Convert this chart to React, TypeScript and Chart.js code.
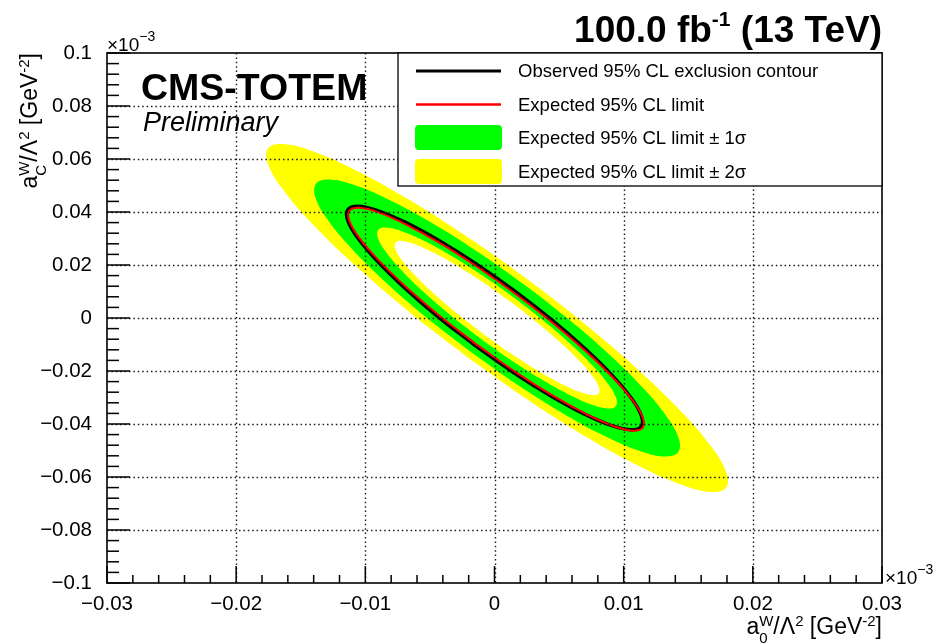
import React, { useEffect, useRef } from 'react';
import { Chart, registerables } from 'chart.js';

Chart.register(...registerables);

const FONT = '"Liberation Sans", Arial, Helvetica, sans-serif';

// ---- axis ticks (displayed values, x 10^-3) ----
const xTickValues = [-0.03, -0.02, -0.01, 0, 0.01, 0.02, 0.03];
const xTickLabels = ['\u22120.03', '\u22120.02', '\u22120.01', '0', '0.01', '0.02', '0.03'];
const yTickValues = [-0.1, -0.08, -0.06, -0.04, -0.02, 0, 0.02, 0.04, 0.06, 0.08, 0.1];
const yTickLabels = ['\u22120.1', '\u22120.08', '\u22120.06', '\u22120.04', '\u22120.02', '0', '0.02', '0.04', '0.06', '0.08', '0.1'];
const xMinorStep = 0.002;
const yMinorStep = 0.004;

// ---- legend ----
const legendLabels = [
  'Observed 95% CL exclusion contour',
  'Expected 95% CL limit',
  'Expected 95% CL limit \u00b1 1\u03c3',
  'Expected 95% CL limit \u00b1 2\u03c3',
];

// ---- contours (a0W/L^2, aCW/L^2) ----
const band2SigmaOuter: [number, number][] = [
  [-0.00206, -0.01487], [-0.00657, 0.0022], [-0.01062, 0.01911], [-0.01394, 0.03472],
  [-0.01629, 0.04797], [-0.01752, 0.05794], [-0.01754, 0.06397], [-0.01635, 0.06563],
  [-0.01403, 0.06283], [-0.01075, 0.05574], [-0.00672, 0.04486], [-0.00221, 0.03091],
  [0.00246, 0.01487], [0.00697, -0.0022], [0.01102, -0.01911], [0.01434, -0.03472],
  [0.01669, -0.04797], [0.01792, -0.05794], [0.01794, -0.06397], [0.01675, -0.06563],
  [0.01443, -0.06283], [0.01115, -0.05574], [0.00712, -0.04486], [0.00261, -0.03091],
  [-0.00206, -0.01487],
];

const band1SigmaOuter: [number, number][] = [
  [-0.00178, -0.01304], [-0.00534, 0.00049], [-0.00853, 0.014], [-0.01112, 0.02655],
  [-0.01294, 0.03729], [-0.01386, 0.04549], [-0.01383, 0.05059], [-0.01284, 0.05224],
  [-0.01096, 0.05034], [-0.00832, 0.045], [-0.0051, 0.03659], [-0.00152, 0.02569],
  [0.00218, 0.01304], [0.00574, -0.00049], [0.00893, -0.014], [0.01152, -0.02655],
  [0.01334, -0.03729], [0.01426, -0.04549], [0.01423, -0.05059], [0.01324, -0.05224],
  [0.01136, -0.05034], [0.00872, -0.045], [0.0055, -0.03659], [0.00192, -0.02569],
  [-0.00178, -0.01304],
];

const band1SigmaInner: [number, number][] = [
  [-0.00101, -0.00798], [-0.00335, 0.00089], [-0.00546, 0.0097], [-0.00717, 0.01785],
  [-0.00838, 0.02478], [-0.00901, 0.03002], [-0.00901, 0.03322], [-0.00839, 0.03415],
  [-0.00717, 0.03276], [-0.00546, 0.02913], [-0.00336, 0.02352], [-0.00101, 0.0163],
  [0.00141, 0.00798], [0.00375, -0.00089], [0.00586, -0.0097], [0.00757, -0.01785],
  [0.00878, -0.02478], [0.00941, -0.03002], [0.00941, -0.03322], [0.00879, -0.03415],
  [0.00757, -0.03276], [0.00586, -0.02913], [0.00376, -0.02352], [0.00141, -0.0163],
  [-0.00101, -0.00798],
];

const band2SigmaInner: [number, number][] = [
  [-0.00077, -0.00639], [-0.00278, 0.00118], [-0.00458, 0.00866], [-0.00605, 0.01556],
  [-0.0071, 0.02139], [-0.00766, 0.02577], [-0.00767, 0.02839], [-0.00715, 0.02908],
  [-0.00613, 0.02778], [-0.00468, 0.02459], [-0.0029, 0.01973], [-0.0009, 0.01352],
  [0.00117, 0.00639], [0.00318, -0.00118], [0.00498, -0.00866], [0.00645, -0.01556],
  [0.0075, -0.02139], [0.00806, -0.02577], [0.00807, -0.02839], [0.00755, -0.02908],
  [0.00653, -0.02778], [0.00508, -0.02459], [0.0033, -0.01973], [0.0013, -0.01352],
  [-0.00077, -0.00639],
];

const observedContour: [number, number][] = [
  [-0.00155, -0.01022], [-0.00444, 0.00072], [-0.00702, 0.01162], [-0.00913, 0.02172],
  [-0.01061, 0.03034], [-0.01137, 0.0369], [-0.01135, 0.04094], [-0.01056, 0.04219],
  [-0.00906, 0.04057], [-0.00693, 0.03618], [-0.00433, 0.02932], [-0.00144, 0.02047],
  [0.00155, 0.01022], [0.00444, -0.00072], [0.00702, -0.01162], [0.00913, -0.02172],
  [0.01061, -0.03034], [0.01137, -0.0369], [0.01135, -0.04094], [0.01056, -0.04219],
  [0.00906, -0.04057], [0.00693, -0.03618], [0.00433, -0.02932], [0.00144, -0.02047],
  [-0.00155, -0.01022],
];

const expectedContour: [number, number][] = [
  [-0.00135, -0.01016], [-0.00424, 0.00077], [-0.00683, 0.01161], [-0.00895, 0.02163],
  [-0.01045, 0.03015], [-0.01123, 0.03658], [-0.01123, 0.04049], [-0.01046, 0.04161],
  [-0.00897, 0.03986], [-0.00687, 0.03536], [-0.00428, 0.02843], [-0.0014, 0.01952],
  [0.00159, 0.00926], [0.00448, -0.00167], [0.00707, -0.01251], [0.00919, -0.02253],
  [0.01069, -0.03105], [0.01147, -0.03748], [0.01147, -0.04139], [0.0107, -0.04251],
  [0.00921, -0.04076], [0.00711, -0.03626], [0.00452, -0.02933], [0.00164, -0.02042],
  [-0.00135, -0.01016],
];

const YELLOW = '#ffff00';
const GREEN = '#00ff00';

type Seg = { t?: string; sup?: string; sub?: string; size: number; bold?: boolean; italic?: boolean; rise?: number; supRise?: number; subDrop?: number };

function fontStr(size: number, bold?: boolean, italic?: boolean) {
  return `${italic ? 'italic ' : ''}${bold ? 'bold ' : ''}${size}px ${FONT}`;
}

function segWidth(ctx: CanvasRenderingContext2D, s: Seg) {
  ctx.font = fontStr(s.size, s.bold, s.italic);
  if (s.sup !== undefined || s.sub !== undefined) {
    return Math.max(ctx.measureText(s.sup || '').width, ctx.measureText(s.sub || '').width);
  }
  return ctx.measureText(s.t || '').width;
}

function drawRich(ctx: CanvasRenderingContext2D, segs: Seg[], x: number, y: number, align: 'left' | 'right') {
  const widths = segs.map((s) => segWidth(ctx, s));
  const total = widths.reduce((a, b) => a + b, 0);
  let cx = align === 'right' ? x - total : x;
  ctx.textAlign = 'left';
  ctx.textBaseline = 'alphabetic';
  segs.forEach((s, i) => {
    ctx.font = fontStr(s.size, s.bold, s.italic);
    if (s.sup !== undefined || s.sub !== undefined) {
      if (s.sup) ctx.fillText(s.sup, cx, y - (s.supRise || 0));
      if (s.sub) ctx.fillText(s.sub, cx, y + (s.subDrop || 0));
    } else {
      ctx.fillText(s.t || '', cx, y - (s.rise || 0));
    }
    cx += widths[i];
  });
}

function axisTitle(sub: string): Seg[] {
  return [
    { t: 'a', size: 23 },
    { sup: 'W', sub, size: 15, supRise: 8, subDrop: 9 },
    { t: '/\u039b', size: 23 },
    { t: '2', size: 15, rise: 8 },
    { t: ' [GeV', size: 23 },
    { t: '-2', size: 15, rise: 8 },
    { t: ']', size: 23 },
  ];
}

function labelFor(values: number[], labels: string[], v: number) {
  const i = values.findIndex((w) => Math.abs(w - v) < 1e-9);
  return i >= 0 ? labels[i] : '';
}

const rootDecor = {
  id: 'rootDecor',
  beforeDatasetsDraw(chart: any) {
    const { ctx, chartArea } = chart;
    const fills: { idx: number; color: string }[] = [];
    chart.data.datasets.forEach((ds: any, i: number) => {
      if (ds.fillColor) fills.push({ idx: i, color: ds.fillColor });
    });
    fills.sort((a, b) => chart.data.datasets[b.idx].order - chart.data.datasets[a.idx].order);
    ctx.save();
    ctx.beginPath();
    ctx.rect(chartArea.left, chartArea.top, chartArea.right - chartArea.left, chartArea.bottom - chartArea.top);
    ctx.clip();
    fills.forEach(({ idx, color }) => {
      const line = chart.getDatasetMeta(idx).dataset;
      if (!line) return;
      if (line.updateControlPoints) line.updateControlPoints(chartArea, 'x');
      ctx.beginPath();
      line.path(ctx);
      ctx.closePath();
      ctx.fillStyle = color;
      ctx.fill();
    });
    ctx.restore();
  },
  afterDatasetsDraw(chart: any) {
    const { ctx, chartArea: a, scales } = chart;
    const xs = scales.x;
    const ys = scales.y;
    ctx.save();
    // dotted grid
    ctx.strokeStyle = '#1a1a1a';
    ctx.lineWidth = 1.4;
    ctx.setLineDash([1.5, 2.9]);
    xTickValues.forEach((v) => {
      if (v <= xs.min + 1e-9 || v >= xs.max - 1e-9) return;
      const p = Math.round(xs.getPixelForValue(v)) + 0.5;
      ctx.beginPath();
      ctx.moveTo(p, a.top);
      ctx.lineTo(p, a.bottom);
      ctx.stroke();
    });
    yTickValues.forEach((v) => {
      if (v <= ys.min + 1e-9 || v >= ys.max - 1e-9) return;
      const p = Math.round(ys.getPixelForValue(v)) + 0.5;
      ctx.beginPath();
      ctx.moveTo(a.left, p);
      ctx.lineTo(a.right, p);
      ctx.stroke();
    });
    ctx.setLineDash([]);
    // frame
    ctx.strokeStyle = '#000';
    ctx.lineWidth = 1.6;
    ctx.strokeRect(a.left, a.top, a.right - a.left, a.bottom - a.top);
    // ticks
    ctx.lineWidth = 1.5;
    const nx = Math.round((xs.max - xs.min) / xMinorStep);
    for (let i = 0; i <= nx; i++) {
      const v = xs.min + i * xMinorStep;
      const p = xs.getPixelForValue(v);
      const len = i % 5 === 0 ? 17 : 8;
      ctx.beginPath();
      ctx.moveTo(p, a.bottom);
      ctx.lineTo(p, a.bottom - len);
      ctx.stroke();
    }
    const ny = Math.round((ys.max - ys.min) / yMinorStep);
    for (let i = 0; i <= ny; i++) {
      const v = ys.min + i * yMinorStep;
      const p = ys.getPixelForValue(v);
      const len = i % 5 === 0 ? 23 : 12;
      ctx.beginPath();
      ctx.moveTo(a.left, p);
      ctx.lineTo(a.left + len, p);
      ctx.stroke();
    }
    ctx.restore();
  },
  afterDraw(chart: any) {
    const { ctx, chartArea: a } = chart;
    ctx.save();
    ctx.fillStyle = '#000';

    // legend box
    const lx = 398;
    const ly = a.top;
    const lw = a.right - lx;
    const lh = 133;
    ctx.fillStyle = '#fff';
    ctx.fillRect(lx, ly, lw, lh);
    ctx.strokeStyle = '#000';
    ctx.lineWidth = 1.3;
    ctx.strokeRect(lx, ly, lw, lh);
    const rows = [ly + 18, ly + 51.5, ly + 84.5, ly + 118.5];
    // entry 1: black line
    ctx.strokeStyle = '#000';
    ctx.lineWidth = 3;
    ctx.beginPath();
    ctx.moveTo(416, rows[0]);
    ctx.lineTo(501, rows[0]);
    ctx.stroke();
    // entry 2: red line
    ctx.strokeStyle = '#ff0000';
    ctx.lineWidth = 2.5;
    ctx.beginPath();
    ctx.moveTo(416, rows[1]);
    ctx.lineTo(501, rows[1]);
    ctx.stroke();
    // entry 3/4: boxes
    const box = (y: number, color: string) => {
      ctx.fillStyle = color;
      ctx.beginPath();
      if ((ctx as any).roundRect) (ctx as any).roundRect(415, y - 12.5, 87, 25, 4);
      else ctx.rect(415, y - 12.5, 87, 25);
      ctx.fill();
    };
    box(rows[2], GREEN);
    box(rows[3], YELLOW);
    ctx.fillStyle = '#000';
    ctx.font = fontStr(18.5);
    ctx.textAlign = 'left';
    ctx.textBaseline = 'middle';
    legendLabels.forEach((t, i) => ctx.fillText(t, 518, rows[i] + 1));

    // luminosity title
    drawRich(
      ctx,
      [
        { t: '100.0 fb', size: 37, bold: true },
        { t: '-1', size: 21, bold: true, rise: 16 },
        { t: ' (13 TeV)', size: 37, bold: true },
      ],
      a.right,
      41.5,
      'right'
    );

    // CMS-TOTEM / Preliminary
    ctx.font = fontStr(37.5, true);
    ctx.textAlign = 'left';
    ctx.textBaseline = 'alphabetic';
    ctx.fillText('CMS-TOTEM', 141, 100);
    ctx.font = fontStr(27, false, true);
    ctx.fillText('Preliminary', 143, 131);

    // x10^-3 exponents
    drawRich(ctx, [{ t: '\u00d710', size: 19 }, { t: '\u22123', size: 14, rise: 10 }], a.left, 51, 'left');
    drawRich(ctx, [{ t: '\u00d710', size: 19 }, { t: '\u22123', size: 14, rise: 10 }], a.right + 3, a.bottom + 1, 'left');

    // axis titles
    drawRich(ctx, axisTitle('0'), a.right, 634, 'right');
    ctx.save();
    ctx.translate(37, a.top);
    ctx.rotate(-Math.PI / 2);
    drawRich(ctx, axisTitle('C'), 0, 0, 'right');
    ctx.restore();

    ctx.restore();
  },
};

function toXY(pts: [number, number][]) {
  return pts.map(([x, y]) => ({ x, y }));
}

export default function App() {
  const ref = useRef<HTMLCanvasElement | null>(null);

  useEffect(() => {
    if (!ref.current) return;
    const base = { showLine: true, pointRadius: 0, pointHoverRadius: 0, tension: 0.4, fill: false };
    const chart = new Chart(ref.current, {
      type: 'line',
      data: {
        datasets: [
          { ...base, label: legendLabels[1], data: toXY(expectedContour), borderColor: '#ff0000', borderWidth: 2, order: 0 },
          { ...base, label: legendLabels[0], data: toXY(observedContour), borderColor: '#000000', borderWidth: 3.4, order: 1 },
          { ...base, label: 'inner 2 sigma', data: toXY(band2SigmaInner), borderColor: 'rgba(0,0,0,0)', borderWidth: 0, fillColor: '#ffffff', order: 2 },
          { ...base, label: 'inner 1 sigma', data: toXY(band1SigmaInner), borderColor: 'rgba(0,0,0,0)', borderWidth: 0, fillColor: YELLOW, order: 3 },
          { ...base, label: legendLabels[2], data: toXY(band1SigmaOuter), borderColor: 'rgba(0,0,0,0)', borderWidth: 0, fillColor: GREEN, order: 4 },
          { ...base, label: legendLabels[3], data: toXY(band2SigmaOuter), borderColor: 'rgba(0,0,0,0)', borderWidth: 0, fillColor: YELLOW, order: 5 },
        ] as any,
      },
      options: {
        animation: false,
        responsive: false,
        devicePixelRatio: 1,
        events: [],
        layout: { padding: { top: 53, right: 57, bottom: 0, left: 0 } },
        plugins: { legend: { display: false }, tooltip: { enabled: false }, title: { display: false } },
        scales: {
          x: {
            type: 'linear',
            min: -0.03,
            max: 0.03,
            grid: { display: false, drawTicks: false },
            border: { display: false },
            afterFit: (s: any) => { s.height = 60; },
            afterBuildTicks: (s: any) => { s.ticks = xTickValues.map((v) => ({ value: v })); },
            ticks: {
              autoSkip: false,
              maxRotation: 0,
              padding: 9,
              color: '#000',
              font: { family: FONT, size: 20.5 },
              callback: (v: any) => labelFor(xTickValues, xTickLabels, Number(v)),
            },
          },
          y: {
            type: 'linear',
            min: -0.1,
            max: 0.1,
            grid: { display: false, drawTicks: false },
            border: { display: false },
            afterFit: (s: any) => { s.width = 107; },
            afterBuildTicks: (s: any) => { s.ticks = yTickValues.map((v) => ({ value: v })); },
            ticks: {
              autoSkip: false,
              padding: 15,
              color: '#000',
              font: { family: FONT, size: 20.5 },
              callback: (v: any) => labelFor(yTickValues, yTickLabels, Number(v)),
            },
          },
        },
      } as any,
      plugins: [rootDecor],
    });
    return () => chart.destroy();
  }, []);

  return (
    <div style={{ position: 'fixed', left: 0, top: 0, width: 939, height: 643, background: '#fff' }}>
      <canvas ref={ref} width={939} height={643} style={{ display: 'block', width: 939, height: 643 }} />
    </div>
  );
}
